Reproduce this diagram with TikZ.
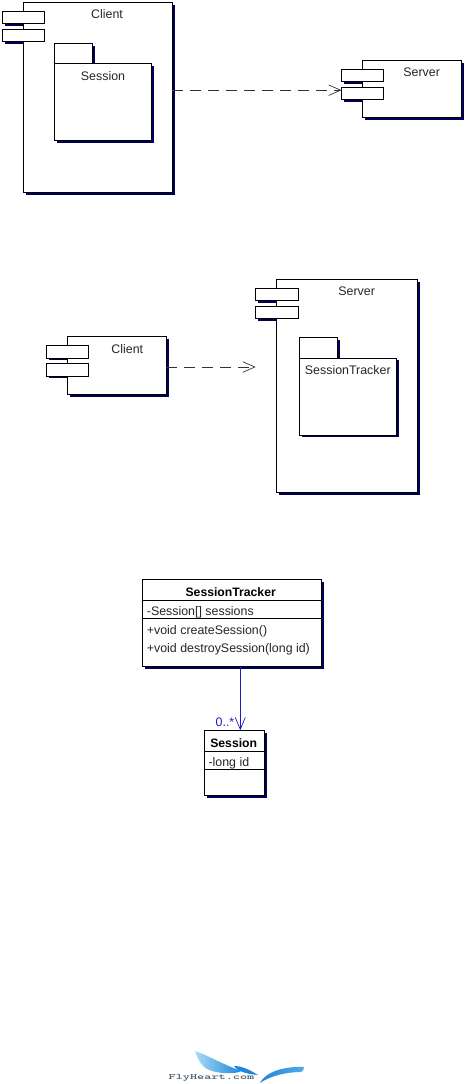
\documentclass[tikz,border=0pt]{standalone}
\usepackage{fontspec}
\setmainfont{Liberation Sans}
\usetikzlibrary{arrows.meta,calc}
\definecolor{umlshadow}{HTML}{00005A}
\definecolor{umlblue}{HTML}{1A1AC8}
\definecolor{logolight}{HTML}{A8DCF4}
\definecolor{logoblue}{HTML}{1F86DC}
\tikzset{
  umlbox/.style={draw,fill=white,line width=.9pt,inner sep=0pt,outer sep=0pt,anchor=north west},
  umltext/.style={font=\fontsize{12.4}{14}\selectfont,inner sep=0pt,text=black!85},
  umlbold/.style={font=\fontsize{12.2}{14}\bfseries\selectfont,inner sep=0pt},
  umlattr/.style={umltext,anchor=west},
  depend/.style={draw=black!80,line width=.9pt,dash pattern=on 11pt off 7pt,
    -{Straight Barb[length=12pt,width=10.5pt,line width=.7pt]}},
}
\begin{document}
\begin{tikzpicture}[x=1pt,y=-1pt]
  \useasboundingbox (0,0) rectangle (466,1084);

  % components
  \foreach \nm/\x/\y/\w/\h/\tx/\ty/\lbl in {
    cliA/23.5/2.5/148.5/189.5/107/14.5/Client,
    srvA/362.5/60/98.5/57.7/421.7/72.7/Server,
    cliB/67.3/336.7/99/57.6/127.3/349.3/Client,
    srvB/276.7/279/141/213.7/356.7/291.7/Server}{
    \fill[umlshadow] (\x+2.5,\y+2.5) rectangle +(\w,\h);
    \foreach \s in {9,27}{\fill[umlshadow] (\x-18.5,\y+\s+2.5) rectangle +(30,12);}
    \node[umlbox,minimum width=\w,minimum height=\h] (\nm) at (\x,\y) {};
    \node[umlbox,minimum width=42.4,minimum height=12.3] (\nm-a) at (\x-21,\y+9) {};
    \node[umlbox,minimum width=42.4,minimum height=12.3] (\nm-b) at (\x-21,\y+27) {};
    \node[umltext] (\nm-name) at (\tx,\ty) {\lbl};
  }

  % packages
  \foreach \nm/\x/\y/\lbl in {pkgA/54.5/43.5/Session,pkgB/299.3/337.7/SessionTracker}{
    \fill[umlshadow] (\x+2.5,\y+2.5) rectangle +(38,20);
    \fill[umlshadow] (\x+2.5,\y+22.5) rectangle +(97,77);
    \node[umlbox,minimum width=38.4,minimum height=20.3] (\nm-tab) at (\x,\y) {};
    \node[umlbox,minimum width=97,minimum height=77] (\nm) at (\x,\y+20.3) {};
    \node[umltext] (\nm-name) at ($(\nm.north)+(0,12.4)$) {\lbl};
  }

  % dependencies
  \coordinate (tipA) at ($(srvA-b.north west)+(0,3.2)$);
  \coordinate (tipB) at (255.7,367);
  \path[depend] (cliA.east |- tipA) -- (tipA);
  \path[depend] (cliB.east |- tipB) -- (tipB);

  % classes
  \fill[umlshadow] (144.8,582.2) rectangle +(179.4,87);
  \node[umlbox,minimum width=179.4,minimum height=87] (tracker) at (142.3,579.7) {};
  \draw[line width=.8pt] (tracker.west |- 0,600) -- (tracker.east |- 0,600);
  \draw[line width=.8pt] (tracker.west |- 0,618.7) -- (tracker.east |- 0,618.7);
  \node[umlbold] (trackerName) at (230.7,592) {SessionTracker};
  \node[umlattr] (trackerAttr) at (146.7,612) {-Session[] sessions};
  \node[umlattr] (trackerOpA) at (146.7,631) {+void createSession()};
  \node[umlattr] (trackerOpB) at (146.7,649.7) {+void destroySession(long id)};

  \fill[umlshadow] (206.8,732.8) rectangle +(60,65.4);
  \node[umlbox,minimum width=60,minimum height=65.4] (session) at (204.3,730.3) {};
  \draw[line width=.8pt] (session.west |- 0,751) -- (session.east |- 0,751);
  \draw[line width=.8pt] (session.west |- 0,769.7) -- (session.east |- 0,769.7);
  \node[umlbold] (sessionName) at (233.7,743) {Session};
  \node[umlattr] (sessionAttr) at (208.3,763) {-long id};

  \coordinate (assocStart) at (240.3,0 |- tracker.south);
  \draw[umlblue,line width=.8pt,-{Straight Barb[length=12pt,width=10pt,line width=.7pt]}]
    (assocStart) -- (assocStart |- session.north);
  \node[umltext,text=umlblue] (assocMult) at (225,722) {0..*};

  % logo
  \shade[left color=logolight,right color=logoblue] (195,1051) .. controls (205,1054) and (222,1064) .. (241,1071)
    .. controls (238,1074) and (214,1075) .. (204,1067) .. controls (199,1062) and (197,1057) .. (195,1051);
  \fill[logoblue] (234,1066) .. controls (242,1066) and (250,1070) .. (258,1075)
    .. controls (248,1074) and (238,1072) .. (234,1066);
  \shade[left color=logoblue,right color=logolight!40!logoblue] (260,1083) .. controls (264,1074) and (280,1066) .. (304,1067)
    .. controls (304,1070) and (303,1071) .. (301,1072) .. controls (286,1072) and (270,1076) .. (260,1083);
  \node[inner sep=0pt,xscale=1.7,text={rgb,255:red,64;green,85;blue,106},font=\ttfamily\fontsize{8}{9}\bfseries\selectfont] (logoText) at (211.5,1078) {FlyHeart.com};
\end{tikzpicture}
\end{document}
